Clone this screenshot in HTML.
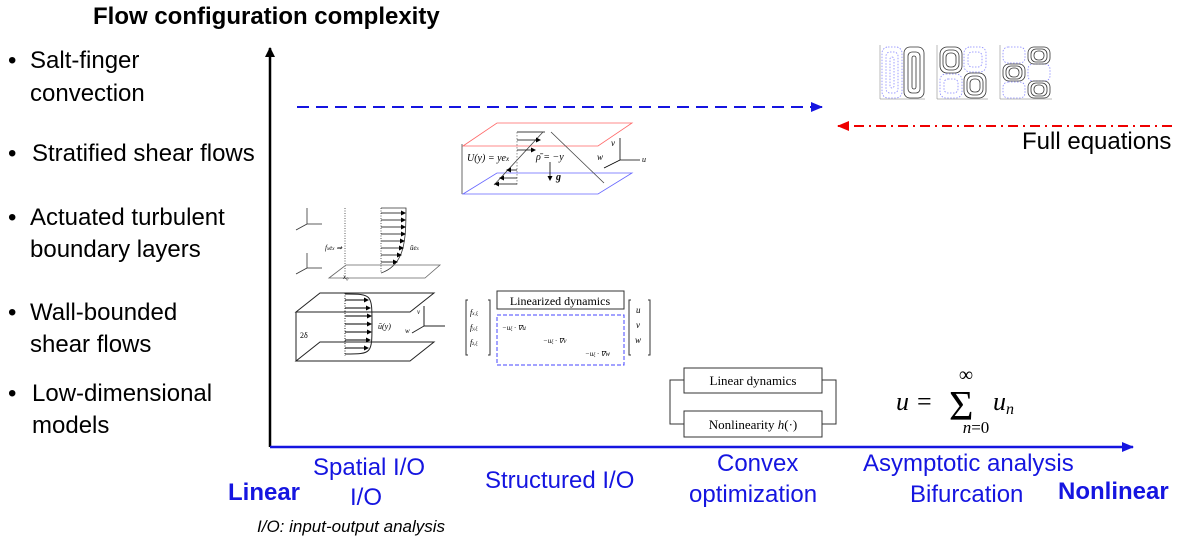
<!DOCTYPE html>
<html><head><meta charset="utf-8"><style>
body{margin:0;width:1188px;height:544px;background:#fff;position:relative;overflow:hidden;font-family:"Liberation Sans",sans-serif}
.t{position:absolute;white-space:nowrap;line-height:1}
.b{font-size:24px;color:#000}
.bl{color:#1515e0;font-size:24px}
</style></head><body>
<div class="t" style="left:93px;top:5px;font-size:24px;font-weight:bold">Flow configuration complexity</div>
<div class="t b" style="left:8px;top:49px">•</div>
<div class="t b" style="left:30px;top:49px">Salt-finger</div>
<div class="t b" style="left:30px;top:82px">convection</div>
<div class="t b" style="left:8px;top:142px">•</div>
<div class="t b" style="left:32px;top:142px">Stratified shear flows</div>
<div class="t b" style="left:8px;top:206px">•</div>
<div class="t b" style="left:30px;top:206px">Actuated turbulent</div>
<div class="t b" style="left:30px;top:238px">boundary layers</div>
<div class="t b" style="left:8px;top:301px">•</div>
<div class="t b" style="left:30px;top:301px">Wall-bounded</div>
<div class="t b" style="left:30px;top:333px">shear flows</div>
<div class="t b" style="left:8px;top:382px">•</div>
<div class="t b" style="left:32px;top:382px">Low-dimensional</div>
<div class="t b" style="left:32px;top:414px">models</div>

<div class="t bl" style="left:228px;top:481px;font-weight:bold;font-size:24px">Linear</div>
<div class="t bl" style="left:313px;top:456px">Spatial I/O</div>
<div class="t bl" style="left:350px;top:486px">I/O</div>
<div class="t bl" style="left:485px;top:469px">Structured I/O</div>
<div class="t bl" style="left:717px;top:452px">Convex</div>
<div class="t bl" style="left:689px;top:483px">optimization</div>
<div class="t bl" style="left:863px;top:452px">Asymptotic analysis</div>
<div class="t bl" style="left:910px;top:483px">Bifurcation</div>
<div class="t bl" style="left:1058px;top:480px;font-weight:bold;font-size:24px">Nonlinear</div>
<div class="t" style="left:257px;top:518px;font-size:17px;font-style:italic">I/O: input-output analysis</div>
<div class="t b" style="left:1022px;top:130px">Full equations</div>

<svg width="1188" height="544" style="position:absolute;left:0;top:0" font-family="Liberation Serif,serif">
<defs>
<marker id="ak" markerWidth="10" markerHeight="10" refX="9" refY="5" orient="auto" markerUnits="userSpaceOnUse"><path d="M0,0L10,5L0,10z" fill="#000"/></marker>
<marker id="ab" markerWidth="12" markerHeight="10" refX="11" refY="5" orient="auto" markerUnits="userSpaceOnUse"><path d="M0,0L12,5L0,10z" fill="#1515e0"/></marker>
<marker id="ar" markerWidth="12" markerHeight="10" refX="11" refY="5" orient="auto" markerUnits="userSpaceOnUse"><path d="M0,0L12,5L0,10z" fill="#e00"/></marker>
<marker id="sm" markerWidth="5" markerHeight="5" refX="4" refY="2.5" orient="auto" markerUnits="userSpaceOnUse"><path d="M0,0L5,2.5L0,5z" fill="#000"/></marker>
</defs>
<line x1="270" y1="447" x2="270" y2="48" stroke="#000" stroke-width="2.5" marker-end="url(#ak)"/>
<line x1="270" y1="447" x2="1133" y2="447" stroke="#1515e0" stroke-width="2.5" marker-end="url(#ab)"/>
<line x1="297" y1="107" x2="822" y2="107" stroke="#1515e0" stroke-width="2" stroke-dasharray="12,7" marker-end="url(#ab)"/>
<line x1="1172" y1="126" x2="838" y2="126" stroke="#e00" stroke-width="2" stroke-dasharray="10,5,2,5" marker-end="url(#ar)"/>

<g stroke-width="0.8" fill="none">
<path d="M463,146 L497,123 L632,123 L598,146 Z" stroke="#f66"/>
<path d="M463,194 L497,173 L632,173 L598,194 Z" stroke="#66f"/>
<line x1="462" y1="144" x2="462" y2="194" stroke="#444"/>
<line x1="517" y1="132" x2="545" y2="132" stroke="#000"/>
<line x1="543" y1="132" x2="494" y2="185" stroke="#444"/>
<line x1="551" y1="132" x2="604" y2="183" stroke="#444"/>
<line x1="517" y1="132" x2="517" y2="186" stroke="#777" stroke-dasharray="1.5,1.5"/>
<g stroke="#000"><line x1="517" y1="140" x2="540" y2="140" marker-end="url(#sm)"/><line x1="517" y1="150" x2="535" y2="150" marker-end="url(#sm)"/><line x1="517" y1="170" x2="507" y2="170" marker-end="url(#sm)"/><line x1="517" y1="178" x2="500" y2="178" marker-end="url(#sm)"/><line x1="517" y1="184" x2="495" y2="184" marker-end="url(#sm)"/>
<line x1="550" y1="162" x2="550" y2="180" marker-end="url(#sm)"/>
<line x1="620" y1="160" x2="620" y2="138"/><line x1="620" y1="160" x2="640" y2="160"/><line x1="620" y1="160" x2="604" y2="168"/></g>
</g>
<text x="467" y="161" font-size="10" font-style="italic">U(y) = ye<tspan font-size="7">x</tspan></text>
<text x="536" y="160" font-size="10" font-style="italic">ρ̄ = −y</text>
<text x="556" y="180" font-size="10" font-weight="bold" font-style="italic">g</text>
<text x="611" y="146" font-size="9" font-style="italic">v</text>
<text x="597" y="160" font-size="9" font-style="italic">w</text>
<text x="642" y="162" font-size="8" font-style="italic">u</text>

<g stroke-width="0.8" fill="none" stroke="#333">
<line x1="307" y1="208" x2="307" y2="224"/><line x1="307" y1="224" x2="322" y2="224"/><line x1="307" y1="224" x2="296" y2="230"/>
<line x1="307" y1="253" x2="307" y2="268"/><line x1="307" y1="268" x2="322" y2="268"/><line x1="307" y1="268" x2="296" y2="274"/>
<line x1="345" y1="208" x2="345" y2="275" stroke-dasharray="1,1.5"/>
<line x1="381" y1="208" x2="381" y2="273" stroke-dasharray="1,1.5"/>
<path d="M381,208 L406,208 C406,240 405,265 381,273"/>
<path d="M329,278 L346,265 L440,265 L425,278 Z" stroke="#666"/>
<g stroke="#000"><line x1="381" y1="213" x2="405" y2="213" marker-end="url(#sm)"/><line x1="381" y1="220" x2="405" y2="220" marker-end="url(#sm)"/><line x1="381" y1="227" x2="405" y2="227" marker-end="url(#sm)"/><line x1="381" y1="234" x2="405" y2="234" marker-end="url(#sm)"/><line x1="381" y1="241" x2="404" y2="241" marker-end="url(#sm)"/><line x1="381" y1="248" x2="403" y2="248" marker-end="url(#sm)"/><line x1="381" y1="255" x2="401" y2="255" marker-end="url(#sm)"/><line x1="381" y1="262" x2="397" y2="262" marker-end="url(#sm)"/></g>
</g>
<text x="325" y="250" font-size="7" font-style="italic">f<tspan font-size="5">x</tspan>e<tspan font-size="5">x</tspan> ⇒</text>
<text x="410" y="250" font-size="7" font-style="italic">ūe<tspan font-size="5">x</tspan></text>
<text x="343" y="279" font-size="7" font-style="italic">x₀</text>

<g stroke-width="1" fill="none" stroke="#222">
<path d="M296,312 L320,293 L434,293 L410,312 Z"/>
<path d="M296,361 L320,342 L434,342 L410,361 Z"/>
<line x1="296" y1="312" x2="296" y2="361"/>
<line x1="345" y1="293" x2="345" y2="356" stroke-dasharray="1,1.5"/>
<path d="M345,294 C372,294 372,294 372,324 C372,354 372,354 345,354"/>
<g stroke="#000"><line x1="345" y1="300" x2="368" y2="300" marker-end="url(#sm)"/><line x1="345" y1="308" x2="370" y2="308" marker-end="url(#sm)"/><line x1="345" y1="316" x2="371" y2="316" marker-end="url(#sm)"/><line x1="345" y1="324" x2="371" y2="324" marker-end="url(#sm)"/><line x1="345" y1="332" x2="371" y2="332" marker-end="url(#sm)"/><line x1="345" y1="340" x2="370" y2="340" marker-end="url(#sm)"/><line x1="345" y1="348" x2="368" y2="348" marker-end="url(#sm)"/></g>
<line x1="424" y1="306" x2="424" y2="326"/><line x1="424" y1="326" x2="445" y2="326"/><line x1="424" y1="326" x2="412" y2="333"/>
</g>
<text x="300" y="338" font-size="8">2δ</text>
<text x="378" y="329" font-size="8" font-style="italic">ū(y)</text>
<text x="417" y="314" font-size="7" font-style="italic">v</text>
<text x="405" y="333" font-size="7" font-style="italic">w</text>

<rect x="497" y="291" width="127" height="18" fill="#fff" stroke="#333"/>
<text x="560" y="305" font-size="12" text-anchor="middle">Linearized dynamics</text>
<rect x="497" y="315" width="127" height="50" fill="none" stroke="#44f" stroke-dasharray="4,2"/>
<text x="502" y="330" font-size="7" font-style="italic">−u<tspan font-size="5">ξ</tspan> · ∇u</text>
<text x="543" y="343" font-size="7" font-style="italic">−u<tspan font-size="5">ξ</tspan> · ∇v</text>
<text x="585" y="356" font-size="7" font-style="italic">−u<tspan font-size="5">ξ</tspan> · ∇w</text>
<path d="M468,300 h-2 v55 h2 M488,300 h2 v55 h-2 M631,300 h-2 v55 h2 M648,300 h2 v55 h-2" stroke="#333" fill="none"/>
<text x="470" y="315" font-size="8" font-style="italic">f<tspan font-size="5">x,ξ</tspan></text>
<text x="470" y="330" font-size="8" font-style="italic">f<tspan font-size="5">y,ξ</tspan></text>
<text x="470" y="345" font-size="8" font-style="italic">f<tspan font-size="5">z,ξ</tspan></text>
<text x="636" y="313" font-size="9" font-style="italic">u</text>
<text x="636" y="328" font-size="9" font-style="italic">v</text>
<text x="635" y="343" font-size="9" font-style="italic">w</text>

<rect x="684" y="368" width="138" height="25" fill="#fff" stroke="#333"/>
<text x="753" y="385" font-size="13" text-anchor="middle">Linear dynamics</text>
<rect x="684" y="411" width="138" height="26" fill="#fff" stroke="#333"/>
<text x="753" y="429" font-size="13" text-anchor="middle">Nonlinearity <tspan font-style="italic">h</tspan>(·)</text>
<path d="M822,380 H836 V424 H822 M684,424 H670 V380 H684" fill="none" stroke="#333"/>

<text x="896" y="410" font-size="26" font-style="italic">u</text>
<text x="917" y="410" font-size="26">=</text>
<text x="949" y="420" font-size="42">Σ</text>
<text x="966" y="381" font-size="20" text-anchor="middle">∞</text>
<text x="976" y="433" font-size="17" font-style="italic" text-anchor="middle">n<tspan font-style="normal">=0</tspan></text>
<text x="993" y="410" font-size="26" font-style="italic">u<tspan font-size="16" dy="4">n</tspan></text>

<g stroke-width="0.8" fill="none">
<g stroke="#777" stroke-width="0.5"><path d="M880,45 V99 H925 M937,45 V99 H988 M1000,45 V99 H1052"/></g>
<g stroke="#88f" stroke-dasharray="1.5,1.5"><rect x="882" y="47" width="20" height="51" rx="6"/><rect x="886" y="52" width="12" height="41" rx="4"/><rect x="890" y="57" width="4" height="31" rx="2"/><rect x="964" y="47" width="22" height="25" rx="6"/><rect x="968" y="52" width="14" height="15" rx="4"/><rect x="940" y="74" width="22" height="24" rx="6"/><rect x="944" y="79" width="14" height="14" rx="4"/><rect x="1003" y="47" width="22" height="16" rx="5"/><rect x="1028" y="64" width="22" height="17" rx="5"/><rect x="1003" y="82" width="22" height="16" rx="5"/></g>
<g stroke="#333"><rect x="904" y="47" width="20" height="51" rx="6"/><rect x="908" y="52" width="12" height="41" rx="4"/><rect x="912" y="56" width="4" height="33" rx="2"/>
<rect x="940" y="47" width="22" height="26" rx="7"/><rect x="943" y="50" width="16" height="20" rx="6"/><rect x="946" y="53" width="10" height="14" rx="4"/>
<rect x="964" y="73" width="22" height="25" rx="7"/><rect x="967" y="76" width="16" height="19" rx="6"/><rect x="970" y="79" width="10" height="13" rx="4"/>
<rect x="1028" y="47" width="22" height="17" rx="6"/><rect x="1031" y="49" width="16" height="13" rx="5"/><rect x="1034" y="51" width="10" height="9" rx="4"/>
<rect x="1003" y="64" width="22" height="17" rx="6"/><rect x="1006" y="66" width="16" height="13" rx="5"/><rect x="1009" y="68" width="10" height="9" rx="4"/>
<rect x="1028" y="81" width="22" height="17" rx="6"/><rect x="1031" y="83" width="16" height="13" rx="5"/><rect x="1034" y="85" width="10" height="9" rx="4"/></g>
</g>
</svg>
</body></html>
